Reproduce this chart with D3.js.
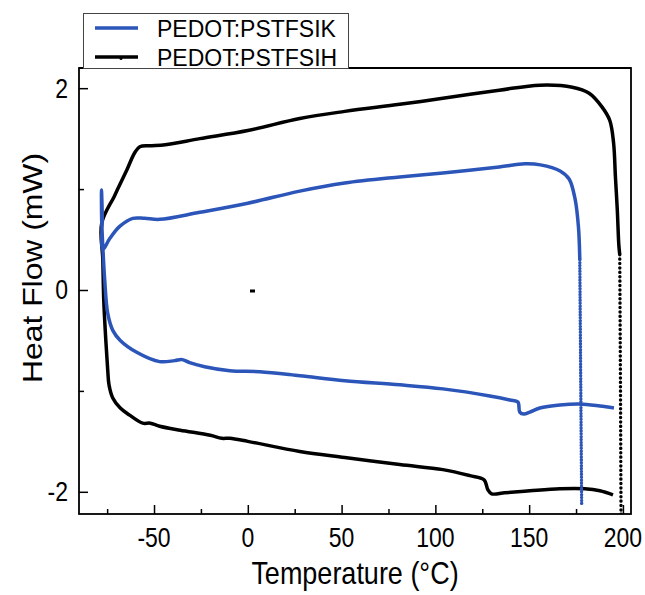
<!DOCTYPE html>
<html>
<head>
<meta charset="utf-8">
<script src="https://cdn.jsdelivr.net/npm/d3@7"></script>
<style>
  body { margin: 0; background: #fff; }
  text { font-family: "Liberation Sans", Arial, sans-serif; }
</style>
</head>
<body>
<div id="chart"></div>
<script>
// [temperature (°C), heat flow (mW)]
var sihCurve = [
  [194.7, -2.03], [187.7, -1.99], [179.7, -1.97], [166.4, -1.97], [150.4, -1.99],
  [137, -2.01], [130, -2.02], [128, -1.98], [125.9, -1.88], [118.4, -1.84],
  [104, -1.78], [81, -1.73], [51.7, -1.66], [27.7, -1.60], [0, -1.50],
  [-9.6, -1.47], [-13.9, -1.47], [-20, -1.44], [-36, -1.39], [-47, -1.35],
  [-52, -1.32], [-56, -1.32], [-63, -1.24], [-68, -1.17], [-72, -1.07],
  [-74, -0.94], [-74.7, -0.79], [-75.7, -0.50], [-76.8, -0.10], [-77.3, 0.30],
  [-77.9, 0.66], [-70.9, 0.94], [-64.5, 1.19], [-60.3, 1.36], [-57.6, 1.42],
  [-52.3, 1.43], [-44, 1.44], [-25.6, 1.50], [0, 1.58], [27.7, 1.70],
  [51.7, 1.77], [81, 1.84], [104, 1.90], [134, 1.98], [155.7, 2.03],
  [173, 2.01], [182, 1.95], [189, 1.81], [193, 1.68], [195, 1.46],
  [196, 1.12], [197, 0.79], [197.8, 0.45], [198.3, 0.35]
];
var sihJump = [[198.3, 0.35], [198.7, -1.0], [199, -2.3]];

var sikCurve = [
  [195.2, -1.17], [187.7, -1.15], [177, -1.13], [166.4, -1.14], [155.7, -1.17],
  [150.4, -1.21], [147.2, -1.23], [145, -1.21], [144, -1.11], [139.7, -1.09],
  [129, -1.05], [104, -0.98], [81, -0.94], [51.7, -0.90], [27.7, -0.85],
  [6.4, -0.81], [-9.6, -0.80], [-23, -0.76], [-31, -0.72], [-35, -0.69],
  [-39, -0.70], [-47, -0.71], [-59, -0.62], [-68, -0.50], [-72, -0.40],
  [-74.7, -0.23], [-76.3, 0.10], [-76.8, 0.25], [-77.9, 0.69], [-78, 0.99],
  [-77.6, 0.74], [-77.3, 0.40], [-73.6, 0.51], [-68.3, 0.63], [-61.3, 0.71],
  [-55, 0.71], [-47, 0.70], [-25.6, 0.77], [0, 0.86], [27.7, 0.98],
  [51.7, 1.06], [81, 1.12], [104, 1.16], [134, 1.22], [147.7, 1.25],
  [156, 1.24], [166.5, 1.18], [171.3, 1.10], [174.5, 0.90], [176.3, 0.62],
  [177, 0.30]
];
var sikJump = [[177, 0.30], [177.5, -0.9], [178, -2.13]];

var strayPoint = [[2.5, -0.01]];

var seriesNames = ["PEDOT:PSTFSIK", "PEDOT:PSTFSIH"];
var seriesColors = ["#2b55b8", "#000000"];
var xTicks = [-50, 0, 50, 100, 150, 200];
var xMinor = [-75, -25, 25, 75, 125, 175];
var yTicks = [-2, 0, 2];
var yMinor = [-1, 1];

var margin = {top: 68, right: 14, bottom: 81, left: 79},
    width = 645 - margin.left - margin.right,
    height = 595 - margin.top - margin.bottom;

// the picture's text is a little taller than it is wide
var stretch = 1.18;

var svg = d3.select("#chart")
  .append("svg")
    .attr("width", 645)
    .attr("height", 595);

var g = svg.append("g")
    .attr("transform", "translate(" + margin.left + "," + margin.top + ")");

var x = d3.scaleLinear()
  .domain([-90, 204.3])
  .range([0, width]);

var y = d3.scaleLinear()
  .domain([-2.22, 2.2])
  .range([height, 0]);

g.append("clipPath").attr("id", "plotclip")
  .append("rect").attr("width", width).attr("height", height);

var line = d3.line()
  .x(function(d) { return x(d[0]); })
  .y(function(d) { return y(d[1]); })
  .curve(d3.curveCatmullRom.alpha(0.5));

var straight = d3.line()
  .x(function(d) { return x(d[0]); })
  .y(function(d) { return y(d[1]); });

var plot = g.append("g").attr("clip-path", "url(#plotclip)");

// black first, blue on top
plot.append("path")
  .datum(sihCurve)
  .attr("fill", "none")
  .attr("stroke", seriesColors[1])
  .attr("stroke-width", 3.5)
  .attr("stroke-linejoin", "round")
  .attr("d", line);

plot.append("path")
  .datum(sihJump)
  .attr("fill", "none")
  .attr("stroke", seriesColors[1])
  .attr("stroke-width", 3.4)
  .attr("stroke-linecap", "round")
  .attr("stroke-dasharray", "0.1,4.3")
  .attr("d", straight);

plot.append("path")
  .datum(sikCurve)
  .attr("fill", "none")
  .attr("stroke", seriesColors[0])
  .attr("stroke-width", 3.5)
  .attr("stroke-linejoin", "round")
  .attr("d", line);

plot.append("path")
  .datum(sikJump)
  .attr("fill", "none")
  .attr("stroke", seriesColors[0])
  .attr("stroke-width", 3.4)
  .attr("stroke-linecap", "round")
  .attr("stroke-dasharray", "0.1,2.8")
  .attr("d", straight);

plot.selectAll("rect.stray")
  .data(strayPoint)
  .enter()
  .append("rect")
    .attr("class", "stray")
    .attr("x", function(d) { return x(d[0]) - 2.5; })
    .attr("y", function(d) { return y(d[1]) - 1.5; })
    .attr("width", 5)
    .attr("height", 3)
    .attr("fill", "#000");

// axes with inward ticks
var bottomAxis = g.append("g")
  .attr("transform", "translate(0," + height + ")")
  .call(d3.axisBottom(x).tickValues(xTicks).tickSize(-9).tickFormat(""));
var bottomMinor = g.append("g")
  .attr("transform", "translate(0," + height + ")")
  .call(d3.axisBottom(x).tickValues(xMinor).tickSize(-5).tickFormat(""));
var leftAxis = g.append("g")
  .call(d3.axisLeft(y).tickValues(yTicks).tickSize(-9).tickFormat(""));
var leftMinor = g.append("g")
  .call(d3.axisLeft(y).tickValues(yMinor).tickSize(-5).tickFormat(""));

[bottomAxis, bottomMinor, leftAxis, leftMinor].forEach(function(a) {
  a.select(".domain").remove();
  a.selectAll("line").attr("stroke", "#000").attr("stroke-width", 1.5);
});

// tick labels placed from the same scales
g.selectAll("text.xlab")
  .data(xTicks)
  .enter()
  .append("text")
    .attr("class", "xlab")
    .attr("transform", function(d) {
      return "translate(" + x(d) + "," + (height + 33) + ")scale(1," + stretch + ")";
    })
    .attr("text-anchor", "middle")
    .style("font-size", "23px")
    .text(function(d) { return d; });

g.selectAll("text.ylab")
  .data(yTicks)
  .enter()
  .append("text")
    .attr("class", "ylab")
    .attr("transform", function(d) {
      return "translate(-11," + (y(d) + 9.5) + ")scale(1," + stretch + ")";
    })
    .attr("text-anchor", "end")
    .style("font-size", "23px")
    .text(function(d) { return d; });

g.append("rect")
  .attr("width", width)
  .attr("height", height)
  .attr("fill", "none")
  .attr("stroke", "#000")
  .attr("stroke-width", 1.8);

// axis titles
svg.append("text")
  .attr("transform", "translate(" + (margin.left + width / 2) + ",584)scale(1," + stretch + ")")
  .attr("text-anchor", "middle")
  .style("font-size", "27px")
  .text("Temperature (°C)");

svg.append("text")
  .attr("transform", "translate(42,268)rotate(-90)scale(" + stretch + ",1)")
  .attr("text-anchor", "middle")
  .style("font-size", "27px")
  .text("Heat Flow (mW)");

// legend
var legend = svg.append("g");
legend.append("rect")
  .attr("x", 83.5).attr("y", 13.5)
  .attr("width", 265).attr("height", 55)
  .attr("fill", "#fff")
  .attr("stroke", "#444")
  .attr("stroke-width", 1);

seriesNames.forEach(function(name, i) {
  var ly = 28 + i * 29;
  legend.append("line")
    .attr("x1", 95).attr("x2", 138)
    .attr("y1", ly).attr("y2", ly)
    .attr("stroke", seriesColors[i])
    .attr("stroke-width", 3.5);
  legend.append("text")
    .attr("transform", "translate(157," + (ly + 8.5) + ")scale(1,1.05)")
    .style("font-size", "23px")
    .text(name);
});
legend.append("circle")
  .attr("cx", 121).attr("cy", 58.5).attr("r", 1.5).attr("fill", "#000");

g.append("line")
  .attr("x1", 0).attr("x2", width).attr("y1", 0).attr("y2", 0)
  .attr("stroke", "#000").attr("stroke-width", 1.8);
</script>
</body>
</html>
